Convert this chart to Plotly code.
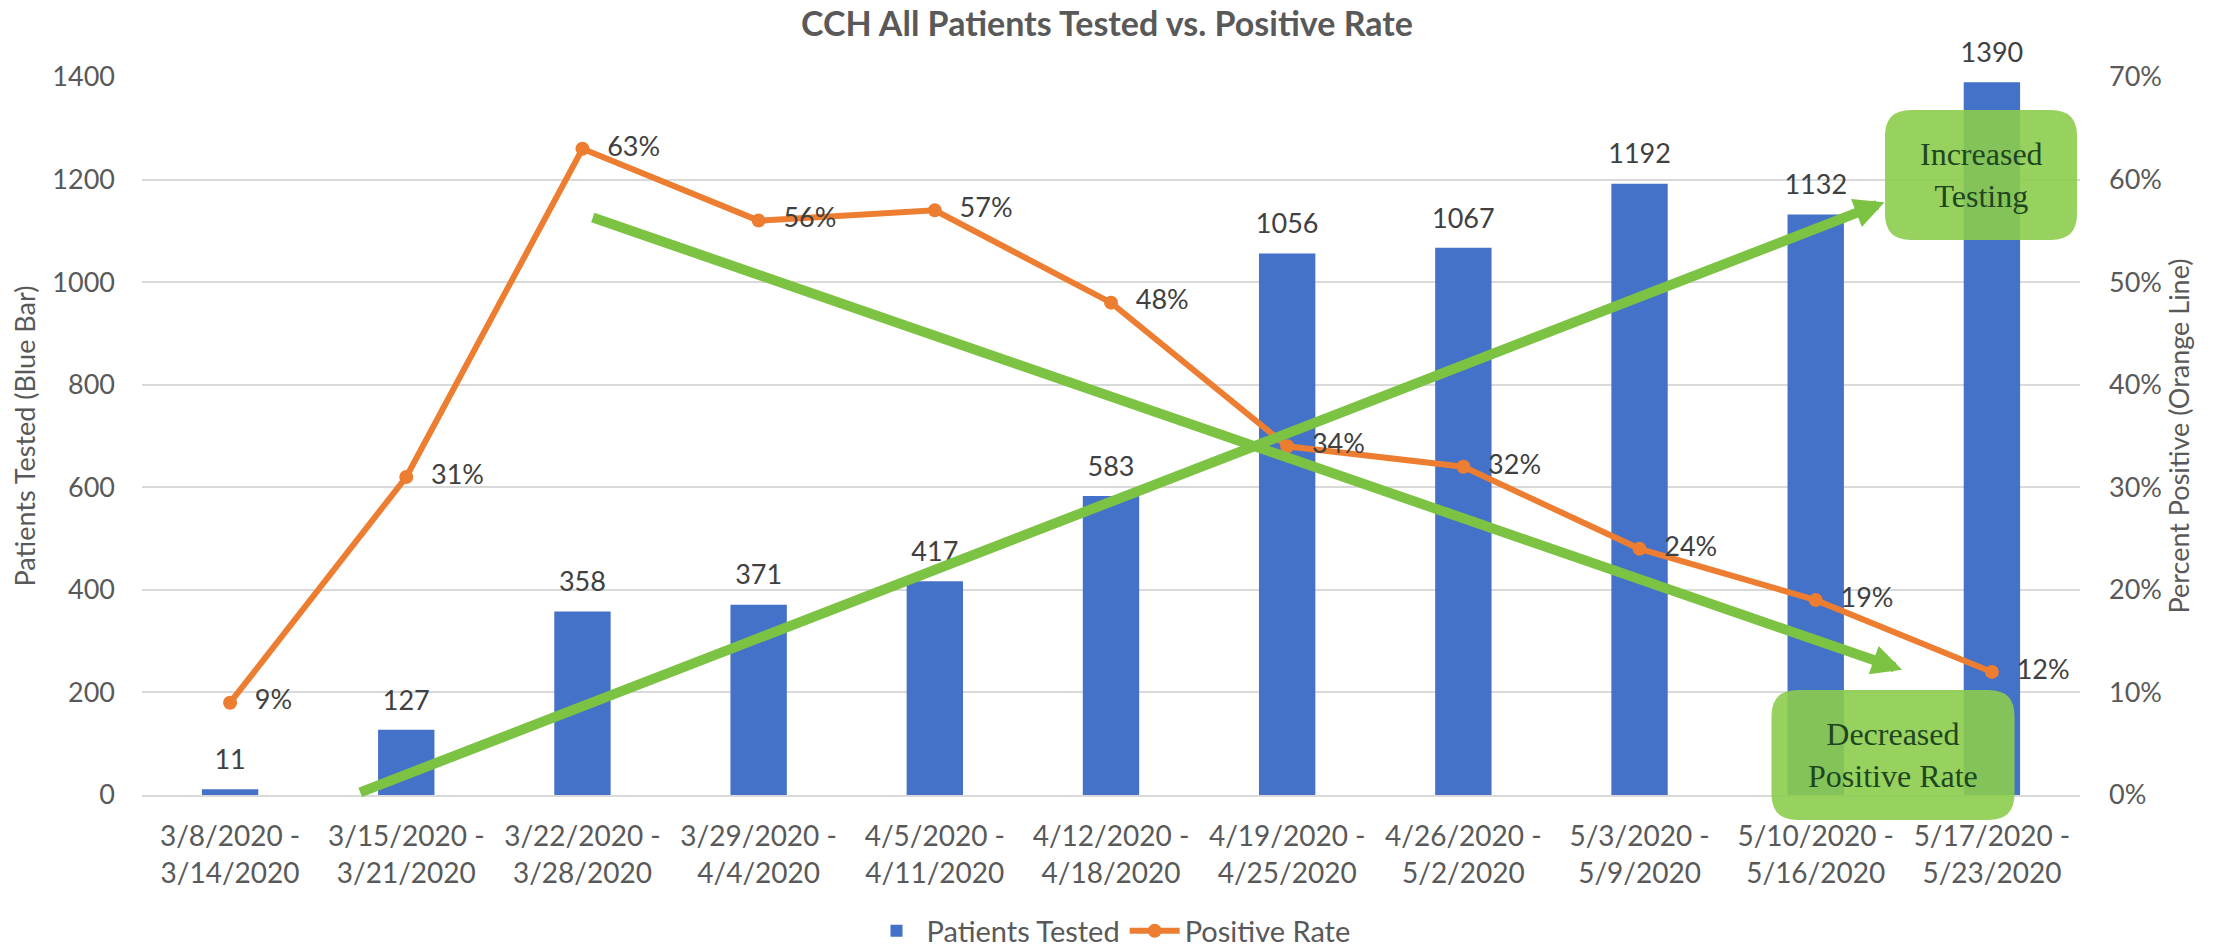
import plotly.graph_objects as go

# ---------------- data ----------------
weeks = [
    "3/8/2020 -<br>3/14/2020", "3/15/2020 -<br>3/21/2020", "3/22/2020 -<br>3/28/2020",
    "3/29/2020 -<br>4/4/2020", "4/5/2020 -<br>4/11/2020", "4/12/2020 -<br>4/18/2020",
    "4/19/2020 -<br>4/25/2020", "4/26/2020 -<br>5/2/2020", "5/3/2020 -<br>5/9/2020",
    "5/10/2020 -<br>5/16/2020", "5/17/2020 -<br>5/23/2020",
]
patients_tested = [11, 127, 358, 371, 417, 583, 1056, 1067, 1192, 1132, 1390]
positive_rate = [0.09, 0.31, 0.63, 0.56, 0.57, 0.48, 0.34, 0.32, 0.24, 0.19, 0.12]
left_ticks = [0, 200, 400, 600, 800, 1000, 1200, 1400]
right_ticks = [0, 0.1, 0.2, 0.3, 0.4, 0.5, 0.6, 0.7]

# ---------------- styles ----------------
FONT = "Lato, 'Open Sans', sans-serif"
SERIF = "'Liberation Serif', 'DejaVu Serif', serif"
AXIS_GRAY = "#595959"
LABEL_GRAY = "#404040"
BLUE = "#4472C8"
ORANGE = "#ED7D31"
GREEN = "#7CC243"
BOX_FILL = "rgba(140,204,76,0.9)"
BOX_TEXT = "#1E4620"
FS = 27

fig = go.Figure()

fig.add_trace(go.Bar(
    x=weeks, y=patients_tested, name="Patients Tested",
    marker=dict(color=BLUE, line=dict(width=0)),
    hoverinfo="skip",
))
# value labels above bars
fig.add_trace(go.Scatter(
    x=weeks, y=patients_tested, mode="markers+text",
    text=[str(v) for v in patients_tested], textposition="top center",
    textfont=dict(family=FONT, size=FS, color=LABEL_GRAY),
    marker=dict(size=20, color="rgba(0,0,0,0)"),
    showlegend=False, hoverinfo="skip", cliponaxis=False,
))
fig.add_trace(go.Scatter(
    x=weeks, y=positive_rate, name="Positive Rate", yaxis="y2",
    mode="lines+markers",
    line=dict(color=ORANGE, width=6),
    marker=dict(color=ORANGE, size=14),
    hoverinfo="skip", cliponaxis=False,
))
fig.add_trace(go.Scatter(
    x=weeks, y=positive_rate, yaxis="y2", mode="markers+text",
    text=[f"{round(v*100)}%" for v in positive_rate], textposition="middle right",
    textfont=dict(family=FONT, size=FS, color=LABEL_GRAY),
    marker=dict(size=38, color="rgba(0,0,0,0)"),
    showlegend=False, hoverinfo="skip", cliponaxis=False,
))

W, H = 2213, 951
L, R, T, B = 142, 133, 77, 156
pw, ph = W - L - R, H - T - B


def px_to_paper(px, py):
    return (px - L) / pw, (H - B - py) / ph


def rounded_rect(w, h, r):
    a, b = w / 2, h / 2
    return (f"M {-a+r},{-b} L {a-r},{-b} Q {a},{-b} {a},{-b+r} L {a},{b-r} "
            f"Q {a},{b} {a-r},{b} L {-a+r},{b} Q {-a},{b} {-a},{b-r} "
            f"L {-a},{-b+r} Q {-a},{-b} {-a+r},{-b} Z")


shapes = []
annotations = []

# green call-out boxes (centre px, size px)
boxes = [
    ((1981, 175), (192, 130), "Increased<br>Testing"),
    ((1893, 755), (243, 130), "Decreased<br>Positive Rate"),
]
for (cx, cy), (bw, bh), txt in boxes:
    xa, ya = px_to_paper(cx, cy)
    shapes.append(dict(
        type="path", xref="paper", yref="paper", xsizemode="pixel", ysizemode="pixel",
        xanchor=xa, yanchor=ya, path=rounded_rect(bw, bh, 26),
        fillcolor=BOX_FILL, line=dict(width=0), layer="above",
    ))
    annotations.append(dict(
        xref="paper", yref="paper", x=xa, y=ya, text=txt, showarrow=False,
        font=dict(family=SERIF, size=32, color=BOX_TEXT), align="center",
        xanchor="center", yanchor="middle",
    ))

# green trend arrows (tail -> tip, in category index / left-axis units)
arrows = [
    ((0.73, 4), (9.39, 1156)),
    ((2.05, 1127), (9.49, 244)),
]
for (tx, ty), (hx, hy) in arrows:
    annotations.append(dict(
        xref="x", yref="y", axref="x", ayref="y", x=hx, y=hy, ax=tx, ay=ty,
        text="", showarrow=True, arrowhead=2, arrowsize=0.6, arrowwidth=10,
        arrowcolor=GREEN, standoff=0, startstandoff=0,
    ))

fig.update_layout(
    width=W, height=H, autosize=False,
    margin=dict(l=L, r=R, t=T, b=B, autoexpand=False),
    paper_bgcolor="white", plot_bgcolor="white",
    font=dict(family=FONT, size=FS, color=AXIS_GRAY),
    title=dict(
        text="CCH All Patients Tested vs. Positive Rate",
        font=dict(family=FONT, size=34, color=AXIS_GRAY, weight="bold"),
        x=1107 / W, xref="container", xanchor="center",
        y=1 - 24 / H, yref="container", yanchor="middle",
    ),
    bargap=0.68,
    showlegend=True,
    legend=dict(
        orientation="h", x=0.5, xanchor="center", y=(H - B - 931) / ph, yanchor="middle",
        font=dict(family=FONT, size=29, color=AXIS_GRAY), itemwidth=50,
        bgcolor="rgba(0,0,0,0)",
    ),
    xaxis=dict(
        type="category", showgrid=False, showline=True, linecolor="#D9D9D9",
        linewidth=1.5, ticks="", tickfont=dict(family=FONT, size=28, color=AXIS_GRAY),
        ticklabelstandoff=16, range=[-0.5, 10.5], automargin=False,
    ),
    yaxis=dict(
        range=[0, 1400], tickvals=left_ticks, showgrid=True, gridcolor="#D9D9D9",
        gridwidth=1.5, zeroline=False, ticks="", ticklabelstandoff=26,
        tickfont=dict(family=FONT, size=FS, color=AXIS_GRAY), automargin=False,
        title=dict(text="Patients Tested (Blue Bar)", standoff=8,
                   font=dict(family=FONT, size=FS, color=AXIS_GRAY)),
    ),
    yaxis2=dict(
        overlaying="y", side="right", range=[0, 0.7], tickvals=right_ticks,
        tickformat=".0%", showgrid=False, zeroline=False, ticks="",
        ticklabelstandoff=28, tickfont=dict(family=FONT, size=FS, color=AXIS_GRAY),
        automargin=False,
        title=dict(text="Percent Positive (Orange Line)", standoff=8,
                   font=dict(family=FONT, size=FS, color=AXIS_GRAY)),
    ),
    shapes=shapes,
    annotations=annotations,
)

fig.write_html("out.html", config={"displayModeBar": False},
               post_script="document.body.style.margin='0';")
